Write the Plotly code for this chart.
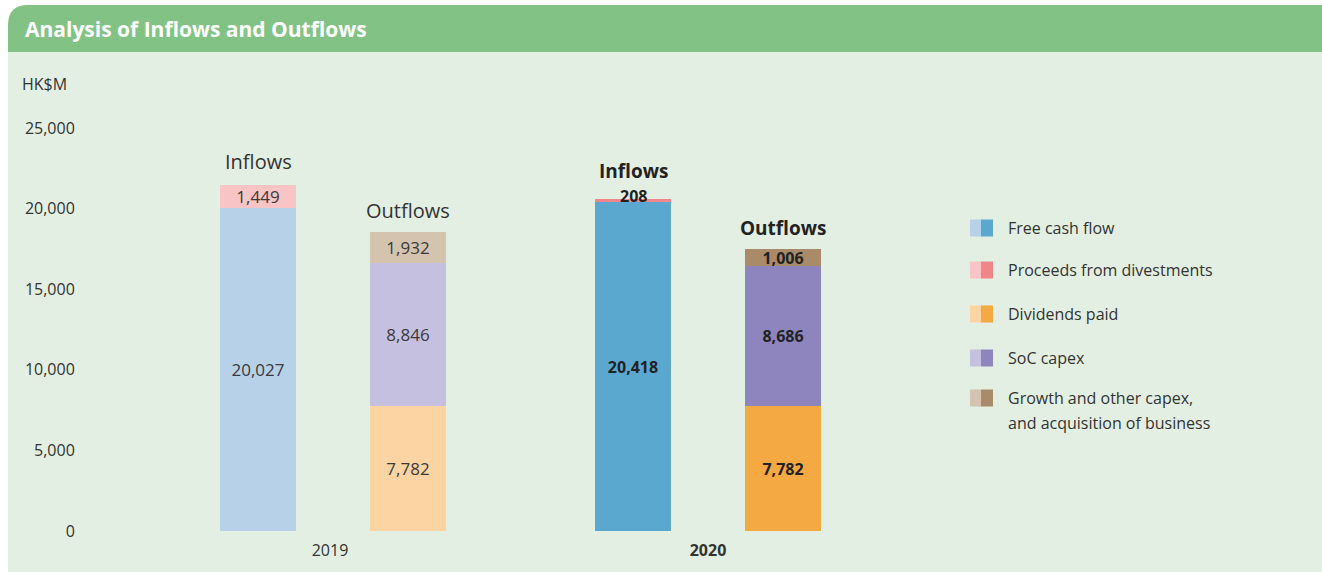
import plotly.graph_objects as go

# ---------------- data ----------------
years = ["2019", "2020"]
free_cash_flow = [20027, 20418]
proceeds_divestments = [1449, 208]
dividends_paid = [7782, 7782]
soc_capex = [8846, 8686]
growth_capex = [1932, 1006]
y_ticks = [0, 5000, 10000, 15000, 20000, 25000]
y_tick_labels = ["0", "5,000", "10,000", "15,000", "20,000", "25,000"]
series_names = ["Free cash flow", "Proceeds from divestments", "Dividends paid",
                "SoC capex", "Growth and other capex,", "and acquisition of business"]

# ---------------- style ----------------
FONT = "Open Sans"
light = {"fcf": "#B7D1E8", "pro": "#F8C4C5", "div": "#FCD4A4", "soc": "#C5C0E0", "gro": "#D3C3AF"}
dark = {"fcf": "#5AA7CF", "pro": "#F0858A", "div": "#F5A943", "soc": "#8F85BE", "gro": "#A98B69"}
keys = ["fcf", "pro", "div", "soc", "gro"]

W, H = 1322, 572
L, R, T, B = 85, 372, 108, 41
PW, PH = W - L - R, H - T - B
YMAX = 26240
X0, XPX = 258, 150  # pixel of position 0, pixels per unit
xr = [(L - X0) / XPX, (W - R - X0) / XPX]


def px(x):
    return (x - L) / PW


def py(y):
    return (H - B - y) / PH


inflow_x = [i * 2.5 for i in range(len(years))]
outflow_x = [i * 2.5 + 1 for i in range(len(years))]
bar_w = 76 / XPX


def fmt(v, i):
    s = f"{v:,}"
    return s if i == 0 else f"<b>{s}</b>"


def colors(k):
    return [light[k], dark[k]]


txt_col = ["#3a3a3a", "#222222"]
SEG_SIZE = [17, 16]

fig = go.Figure()


def add_bar(name, xs, vals, key):
    fig.add_trace(go.Bar(
        name=name, x=xs, y=vals, width=bar_w,
        marker=dict(color=colors(key), line=dict(width=0)),
        text=[fmt(v, i) for i, v in enumerate(vals)],
        textposition="inside", insidetextanchor="middle", textangle=0,
        constraintext="none",
        insidetextfont=dict(family=FONT, size=SEG_SIZE, color=txt_col),
        hoverinfo="skip", showlegend=False,
    ))


add_bar("Free cash flow", inflow_x, free_cash_flow, "fcf")
# proceeds: 2019 inside, 2020 label placed above (segment too thin)
fig.add_trace(go.Bar(
    name="Proceeds from divestments", x=inflow_x, y=proceeds_divestments, width=bar_w,
    marker=dict(color=colors("pro"), line=dict(width=0)),
    text=[fmt(proceeds_divestments[0], 0), ""],
    textposition=["inside", "none"], insidetextanchor="middle", textangle=0,
    constraintext="none",
    insidetextfont=dict(family=FONT, size=SEG_SIZE, color=txt_col),
    hoverinfo="skip", showlegend=False,
))
add_bar("Dividends paid", outflow_x, dividends_paid, "div")
add_bar("SoC capex", outflow_x, soc_capex, "soc")
add_bar("Growth and other capex, and acquisition of business", outflow_x, growth_capex, "gro")

shapes = []
annotations = []

# panel background and header
shapes.append(dict(type="rect", xref="paper", yref="paper", layer="below",
                   x0=px(8), x1=px(W), y0=py(572), y1=py(52),
                   fillcolor="#E3EFE2", line=dict(width=0)))
hdr = (f"M {px(8)},{py(52)} L {px(8)},{py(25)} Q {px(8)},{py(5)} {px(28)},{py(5)} "
       f"L {px(W)},{py(5)} L {px(W)},{py(52)} Z")
shapes.append(dict(type="path", xref="paper", yref="paper", layer="below", path=hdr,
                   fillcolor="#82C385", line=dict(width=0)))
annotations.append(dict(xref="paper", yref="paper", x=px(23), y=py(29), xanchor="left",
                        yanchor="middle", showarrow=False,
                        text="<b>Analysis of Inflows and Outflows</b>",
                        font=dict(family=FONT, size=21, color="white")))
annotations.append(dict(xref="paper", yref="paper", x=px(20), y=py(84), xanchor="left",
                        yanchor="middle", showarrow=False, text="HK$M",
                        font=dict(family=FONT, size=16, color="#333333")))

# group labels
for i in range(len(years)):
    tin = free_cash_flow[i] + proceeds_divestments[i]
    tout = dividends_paid[i] + soc_capex[i] + growth_capex[i]
    bold = i == 1
    lab_in = "<b>Inflows</b>" if bold else "Inflows"
    lab_out = "<b>Outflows</b>" if bold else "Outflows"
    size = 19 if bold else 20
    col = "#222222" if bold else "#333333"
    annotations.append(dict(x=inflow_x[i], y=tin, xref="x", yref="y", showarrow=False,
                            yanchor="middle", yshift=28 if bold else 23, text=lab_in,
                            font=dict(family=FONT, size=size, color=col)))
    annotations.append(dict(x=outflow_x[i], y=tout, xref="x", yref="y", showarrow=False,
                            yanchor="middle", yshift=21, text=lab_out,
                            font=dict(family=FONT, size=size, color=col)))

# thin-segment label (2020 proceeds)
annotations.append(dict(x=inflow_x[1], y=free_cash_flow[1] + proceeds_divestments[1],
                        xref="x", yref="y", showarrow=False, yanchor="middle", yshift=3,
                        text=fmt(proceeds_divestments[1], 1),
                        font=dict(family=FONT, size=16, color="#222222")))

# custom two-tone legend
leg_y = [228, 270, 314, 358, 398]
for k, yc in zip(keys, leg_y):
    shapes.append(dict(type="rect", xref="paper", yref="paper", x0=px(970), x1=px(981),
                       y0=py(yc + 8.5), y1=py(yc - 8.5), fillcolor=light[k], line=dict(width=0)))
    shapes.append(dict(type="rect", xref="paper", yref="paper", x0=px(981), x1=px(993),
                       y0=py(yc + 8.5), y1=py(yc - 8.5), fillcolor=dark[k], line=dict(width=0)))
text_y = leg_y + [423]
for name, yc in zip(series_names, text_y):
    annotations.append(dict(xref="paper", yref="paper", x=px(1006), y=py(yc), xanchor="left",
                            yanchor="middle", showarrow=False, text=name,
                            font=dict(family=FONT, size=16, color="#333333")))

fig.update_layout(
    width=W, height=H,
    margin=dict(l=L, r=R, t=T, b=B, pad=0, autoexpand=False),
    barmode="relative", bargap=0,
    paper_bgcolor="white", plot_bgcolor="rgba(0,0,0,0)",
    font=dict(family=FONT, size=16, color="#333333"),
    shapes=shapes, annotations=annotations, showlegend=False,
    xaxis=dict(range=xr, showgrid=False, zeroline=False, showline=False, automargin=False,
               tickmode="array", tickvals=[0.48, 3.0],
               ticktext=[years[0], f"<b>{years[1]}</b>"],
               ticks="outside", ticklen=5, tickcolor="rgba(0,0,0,0)",
               tickfont=dict(family=FONT, size=16, color="#333333"), fixedrange=True),
    yaxis=dict(range=[0, YMAX], showgrid=False, zeroline=False, showline=False, automargin=False,
               tickmode="array", tickvals=y_ticks, ticktext=y_tick_labels,
               ticks="outside", ticklen=6, tickcolor="rgba(0,0,0,0)",
               tickfont=dict(family=FONT, size=16, color="#333333"), fixedrange=True),
)

fig.write_html("out.html", config={"displayModeBar": False})
